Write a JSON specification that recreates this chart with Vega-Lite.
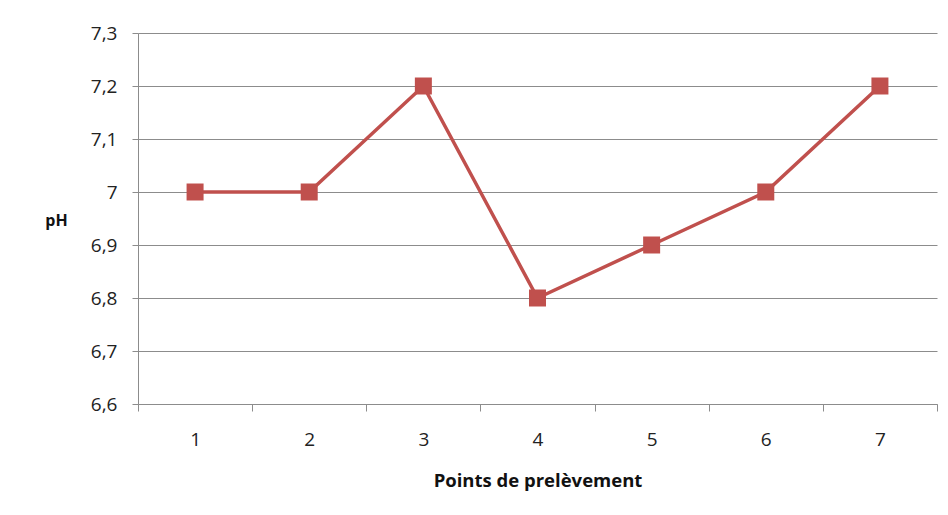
{
  "$schema": "https://vega.github.io/schema/vega-lite/v6.json",
  "autosize": {"type": "none"},
  "width": 799,
  "height": 371,
  "padding": {"left": 138, "top": 33, "right": 11, "bottom": 111},
  "background": "white",
  "config": {
    "view": {"stroke": null},
    "font": "Open Sans"
  },
  "data": {
    "values": [
      {"point": "1", "ph": 7.0},
      {"point": "2", "ph": 7.0},
      {"point": "3", "ph": 7.2},
      {"point": "4", "ph": 6.8},
      {"point": "5", "ph": 6.9},
      {"point": "6", "ph": 7.0},
      {"point": "7", "ph": 7.2}
    ]
  },
  "encoding": {
    "x": {
      "field": "point",
      "type": "ordinal",
      "scale": {"type": "band", "paddingInner": 0, "paddingOuter": 0},
      "axis": {
        "title": "Points de prelèvement",
        "titleFont": "Open Sans",
        "titleFontWeight": "bold",
        "titleFontSize": 18.5,
        "titleColor": "#111",
        "titleY": 82,
        "titleBaseline": "alphabetic",
        "labelAngle": 0,
        "labelFontSize": 19,
        "labelColor": "#222",
        "labelPadding": 19,
        "tickBand": "extent",
        "tickSize": 7,
        "tickColor": "#8c8c8c",
        "domainColor": "#8c8c8c",
        "grid": false
      }
    },
    "y": {
      "field": "ph",
      "type": "quantitative",
      "scale": {"domain": [6.6, 7.3], "zero": false, "nice": false},
      "axis": {
        "title": "pH",
        "titleAngle": 0,
        "titleFontWeight": "bold",
        "titleFontSize": 16,
        "titleColor": "#111",
        "titleX": -82,
        "titleY": 187,
        "titleAlign": "center",
        "titleBaseline": "middle",
        "values": [6.6, 6.7, 6.8, 6.9, 7.0, 7.1, 7.2, 7.3],
        "labelExpr": "replace(format(datum.value, '.1~f'), '.', ',')",
        "labelFontSize": 19,
        "labelColor": "#222",
        "labelPadding": 15,
        "tickSize": 6,
        "tickColor": "#8c8c8c",
        "domainColor": "#8c8c8c",
        "grid": true,
        "gridColor": "#8c8c8c",
        "gridWidth": 1
      }
    }
  },
  "layer": [
    {
      "mark": {"type": "line", "color": "#C0504D", "strokeWidth": 3.5}
    },
    {
      "mark": {"type": "point", "shape": "square", "filled": true, "color": "#C0504D", "size": 289, "opacity": 1}
    }
  ]
}
